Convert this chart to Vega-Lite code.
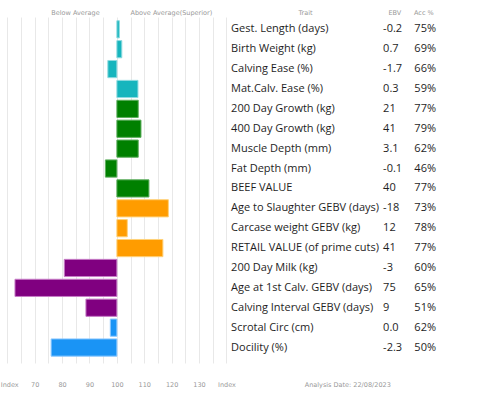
{
  "$schema": "https://vega.github.io/schema/vega-lite/v6.json",
  "width": 482,
  "height": 346,
  "autosize": {"type": "none"},
  "padding": {"top": 17, "left": 0, "right": 0, "bottom": 34},
  "background": "white",
  "config": {"view": {"stroke": null}},
  "data": {"values": [
    {"trait": "Gest. Length (days)", "ebv": "-0.2", "acc": "75%", "index": 100.9, "group": "Calving"},
    {"trait": "Birth Weight (kg)", "ebv": "0.7", "acc": "69%", "index": 101.8, "group": "Calving"},
    {"trait": "Calving Ease (%)", "ebv": "-1.7", "acc": "66%", "index": 96.7, "group": "Calving"},
    {"trait": "Mat.Calv. Ease (%)", "ebv": "0.3", "acc": "59%", "index": 107.7, "group": "Calving"},
    {"trait": "200 Day Growth (kg)", "ebv": "21", "acc": "77%", "index": 107.8, "group": "Growth"},
    {"trait": "400 Day Growth (kg)", "ebv": "41", "acc": "79%", "index": 108.8, "group": "Growth"},
    {"trait": "Muscle Depth (mm)", "ebv": "3.1", "acc": "62%", "index": 107.8, "group": "Growth"},
    {"trait": "Fat Depth (mm)", "ebv": "-0.1", "acc": "46%", "index": 95.8, "group": "Growth"},
    {"trait": "BEEF VALUE", "ebv": "40", "acc": "77%", "index": 111.7, "group": "Growth"},
    {"trait": "Age to Slaughter GEBV (days)", "ebv": "-18", "acc": "73%", "index": 118.8, "group": "Carcase"},
    {"trait": "Carcase weight GEBV (kg)", "ebv": "12", "acc": "78%", "index": 103.8, "group": "Carcase"},
    {"trait": "RETAIL VALUE (of prime cuts)", "ebv": "41", "acc": "77%", "index": 116.8, "group": "Carcase"},
    {"trait": "200 Day Milk (kg)", "ebv": "-3", "acc": "60%", "index": 80.8, "group": "Maternal"},
    {"trait": "Age at 1st Calv. GEBV (days)", "ebv": "75", "acc": "65%", "index": 62.8, "group": "Maternal"},
    {"trait": "Calving Interval GEBV (days)", "ebv": "9", "acc": "51%", "index": 88.7, "group": "Maternal"},
    {"trait": "Scrotal Circ (cm)", "ebv": "0.0", "acc": "62%", "index": 97.6, "group": "Temperament"},
    {"trait": "Docility (%)", "ebv": "-2.3", "acc": "50%", "index": 76, "group": "Temperament"}
  ]},
  "encoding": {
    "y": {"field": "trait", "type": "nominal", "sort": null, "axis": null,
          "scale": {"type": "band", "paddingInner": 0.135, "paddingOuter": 0.2655, "align": 0.35}}
  },
  "resolve": {"axis": {"x": "independent"}},
  "layer": [
    {
      "mark": {"type": "bar", "strokeWidth": 1},
      "encoding": {
        "x": {"field": "index", "type": "quantitative",
              "scale": {"domain": [57.33, 233.3], "nice": false, "zero": false},
              "axis": {"orient": "bottom", "title": null,
                       "values": [60,65,70,75,80,85,90,95,100,105,110,115,120,125,130,135,140,184.1],
                       "grid": true, "gridColor": "#e8e8e8", "gridWidth": 1,
                       "gridOpacity": {"condition": {"test": "datum.value > 150", "value": 0}, "value": 1},
                       "domain": false, "ticks": false,
                       "labelExpr": "datum.value == 60 || datum.value == 140 ? 'Index' : datum.value > 150 ? 'Analysis Date: 22/08/2023' : (datum.value % 10 == 0 && datum.value >= 70 && datum.value <= 130 ? datum.label : '')",
                       "labelAlign": {"condition": {"test": "datum.value == 60", "value": "left"}, "value": "center"},
                       "labelOffset": {"condition": {"test": "datum.value == 60", "value": -7}, "value": 0},
                       "labelFont": "DejaVu Sans", "labelFontSize": 6.5, "labelColor": "#999999",
                       "labelPadding": 18, "labelOverlap": false, "labelBound": false, "labelFlush": false}},
        "x2": {"datum": 100},
        "color": {"field": "group", "type": "nominal", "legend": null,
                  "scale": {"domain": ["Calving", "Growth", "Carcase", "Maternal", "Temperament"],
                            "range": ["#17b5bd", "#008000", "#ff9c00", "#800080", "#1a94f5"]}},
        "stroke": {"field": "group", "type": "nominal", "legend": null,
                   "scale": {"domain": ["Calving", "Growth", "Carcase", "Maternal", "Temperament"],
                             "range": ["#8fdbe0", "#5fae5f", "#ffd27a", "#c77dc7", "#8cc8ff"]}}
      }
    },
    {
      "mark": {"type": "text", "align": "left", "baseline": "middle", "font": "Open Sans", "fontSize": 11, "color": "#1e1e1e"},
      "encoding": {
        "x": {"datum": 141.7, "type": "quantitative",
              "axis": {"orient": "top", "title": null,
                       "values": [84.7, 119.7, 168.7, 201.3, 211.9],
                       "grid": false, "domain": false, "ticks": false,
                       "labelExpr": "datum.value < 100 ? 'Below Average' : datum.value < 150 ? 'Above Average(Superior)' : datum.value < 190 ? 'Trait' : datum.value < 205 ? 'EBV' : 'Acc %'",
                       "labelFont": "DejaVu Sans", "labelFontSize": 6.5, "labelColor": "#999999",
                       "labelPadding": 2, "labelOverlap": false, "labelBound": false, "labelFlush": false}},
        "text": {"field": "trait"}
      }
    },
    {
      "mark": {"type": "text", "align": "left", "baseline": "middle", "font": "Open Sans", "fontSize": 11, "color": "#1e1e1e"},
      "encoding": {
        "x": {"datum": 197.2, "type": "quantitative", "axis": null},
        "text": {"field": "ebv"}
      }
    },
    {
      "mark": {"type": "text", "align": "left", "baseline": "middle", "font": "Open Sans", "fontSize": 11, "color": "#1e1e1e"},
      "encoding": {
        "x": {"datum": 208.6, "type": "quantitative", "axis": null},
        "text": {"field": "acc"}
      }
    }
  ]
}
